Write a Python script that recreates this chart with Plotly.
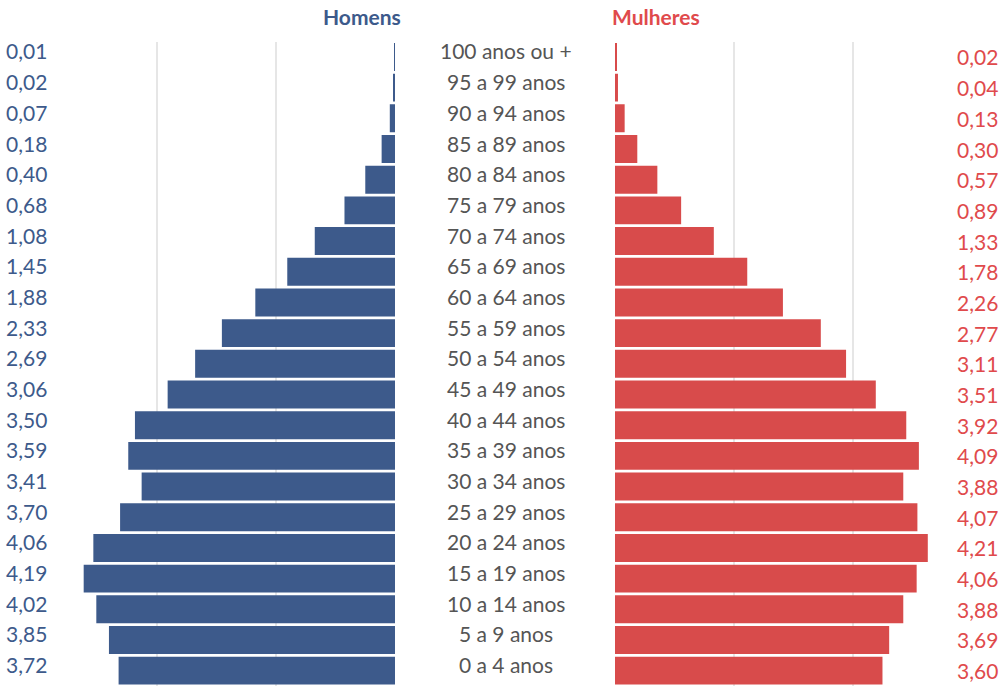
import plotly.graph_objects as go

# Faixas etárias, de cima para baixo
faixas = [
    "100 anos ou +", "95 a 99 anos", "90 a 94 anos", "85 a 89 anos",
    "80 a 84 anos", "75 a 79 anos", "70 a 74 anos", "65 a 69 anos",
    "60 a 64 anos", "55 a 59 anos", "50 a 54 anos", "45 a 49 anos",
    "40 a 44 anos", "35 a 39 anos", "30 a 34 anos", "25 a 29 anos",
    "20 a 24 anos", "15 a 19 anos", "10 a 14 anos", "5 a 9 anos", "0 a 4 anos",
]
homens = [0.01, 0.02, 0.07, 0.18, 0.40, 0.68, 1.08, 1.45, 1.88, 2.33, 2.69,
          3.06, 3.50, 3.59, 3.41, 3.70, 4.06, 4.19, 4.02, 3.85, 3.72]
mulheres = [0.02, 0.04, 0.13, 0.30, 0.57, 0.89, 1.33, 1.78, 2.26, 2.77, 3.11,
            3.51, 3.92, 4.09, 3.88, 4.07, 4.21, 4.06, 3.88, 3.69, 3.60]
grade = [1.6, 3.2]

AZUL = "#3d5a8b"
VERMELHO = "#d84b4b"
VERM_TXT = "#e04a4c"
FONT = "Lato"

W, H = 1004, 686
PX_UNIT = 74.3


def fmt(v):
    return f"{v:.2f}".replace(".", ",")


fig = go.Figure()
fig.add_trace(go.Bar(
    y=faixas, x=homens, orientation="h", xaxis="x", yaxis="y",
    marker=dict(color=AZUL, line=dict(width=0)), hoverinfo="skip",
))
fig.add_trace(go.Bar(
    y=faixas, x=mulheres, orientation="h", xaxis="x2", yaxis="y",
    marker=dict(color=VERMELHO, line=dict(width=0)), hoverinfo="skip",
))

ann = []
for f, h, m in zip(faixas, homens, mulheres):
    ann.append(dict(x=26 / W, xref="paper", y=f, yref="y", yshift=6,
                    text=fmt(h), showarrow=False, xanchor="center",
                    font=dict(family=FONT, size=21, color=AZUL)))
    ann.append(dict(x=506 / W, xref="paper", y=f, yref="y", yshift=6,
                    text=f, showarrow=False, xanchor="center",
                    font=dict(family=FONT, size=21, color="#555555")))
    ann.append(dict(x=977 / W, xref="paper", y=f, yref="y", yshift=0,
                    text=fmt(m), showarrow=False, xanchor="center",
                    font=dict(family=FONT, size=21, color=VERM_TXT)))

ann.append(dict(x=362 / W, xref="paper", y=1 - 16 / H, yref="paper",
                yanchor="middle", text="<b>Homens</b>", showarrow=False,
                font=dict(family=FONT, size=21, color=AZUL)))
ann.append(dict(x=656 / W, xref="paper", y=1 - 16 / H, yref="paper",
                yanchor="middle", text="<b>Mulheres</b>", showarrow=False,
                font=dict(family=FONT, size=21, color=VERM_TXT)))

eixo_x = dict(showticklabels=False, tickvals=grade, showgrid=True,
              gridcolor="#e6e6e6", gridwidth=2, zeroline=False,
              showline=False, fixedrange=True)

fig.update_layout(
    width=W, height=H,
    margin=dict(l=0, r=0, t=0, b=0),
    paper_bgcolor="white", plot_bgcolor="white",
    showlegend=False,
    bargap=0.09,
    xaxis=dict(eixo_x, domain=[0, 395 / W], range=[395 / PX_UNIT, 0]),
    xaxis2=dict(eixo_x, domain=[615 / W, 1], range=[0, 389 / PX_UNIT]),
    yaxis=dict(domain=[0, 1 - 41.6 / H], range=[20.5, -0.5],
               categoryorder="array", categoryarray=faixas,
               showticklabels=False, showgrid=False, zeroline=False),
    annotations=ann,
)

# remove the default 8px page margin so the figure sits at the top-left corner
fig.write_html("out.html", config={"displayModeBar": False},
               post_script="document.body.style.margin='0px';")
